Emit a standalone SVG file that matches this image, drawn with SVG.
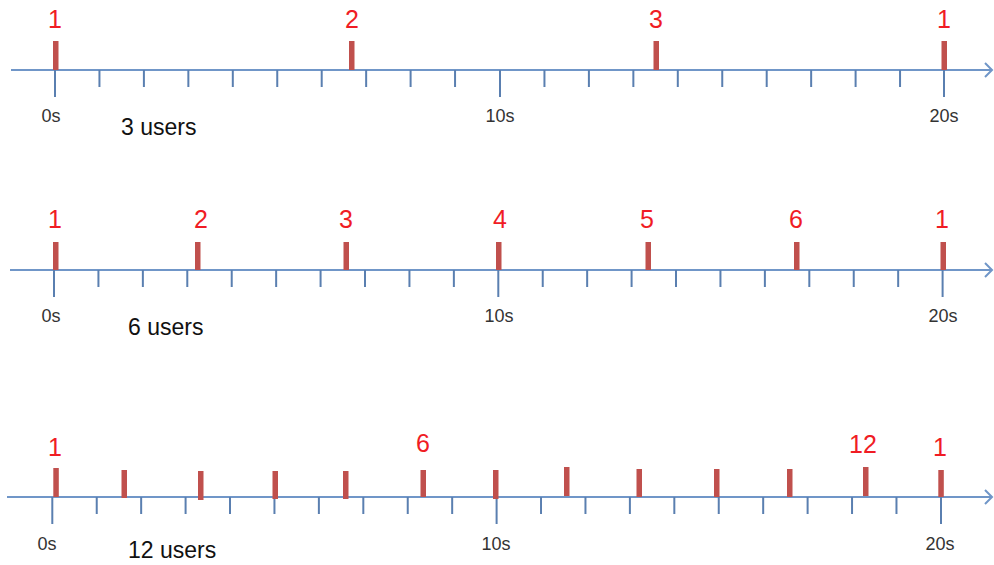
<svg xmlns="http://www.w3.org/2000/svg" width="994" height="565" viewBox="0 0 994 565">
<style>
.axis{stroke:#7096c8;stroke-width:2;fill:none}
.tick{stroke:#5a7fb0;stroke-width:2}
.bar{fill:#c0504d}
.num{font-family:"Liberation Sans",Arial,sans-serif;font-size:25px;fill:#f01c24;text-anchor:middle}
.sec{font-family:"Liberation Sans",Arial,sans-serif;font-size:18px;fill:#333;text-anchor:middle}
.usr{font-family:"Liberation Sans",Arial,sans-serif;font-size:23px;fill:#111}
</style>
<rect width="994" height="565" fill="#fff"/>
<defs>
<g id="minor"><line x1="0" y1="0" x2="0" y2="17" class="tick"/></g>
<g id="major"><line x1="0" y1="0" x2="0" y2="27" class="tick"/></g>
</defs>

<g id="connectors">
<line class="axis" x1="11" y1="70" x2="992" y2="70"/>
<polyline class="axis" points="985,63 992,70 985,77"/>
<line class="axis" x1="10" y1="270" x2="992" y2="270"/>
<polyline class="axis" points="985,263 992,270 985,277"/>
<line class="axis" x1="7" y1="497" x2="992" y2="497"/>
<polyline class="axis" points="985,490 992,497 985,504"/>
</g>

<g id="timeline1">
<use href="#major" x="55" y="70"/><use href="#major" x="500" y="70"/><use href="#major" x="944" y="70"/>
<use href="#minor" x="99.45" y="70"/><use href="#minor" x="143.9" y="70"/><use href="#minor" x="188.35" y="70"/><use href="#minor" x="232.8" y="70"/><use href="#minor" x="277.25" y="70"/><use href="#minor" x="321.7" y="70"/><use href="#minor" x="366.15" y="70"/><use href="#minor" x="410.6" y="70"/><use href="#minor" x="455.05" y="70"/>
<use href="#minor" x="544.45" y="70"/><use href="#minor" x="588.9" y="70"/><use href="#minor" x="633.35" y="70"/><use href="#minor" x="677.8" y="70"/><use href="#minor" x="722.25" y="70"/><use href="#minor" x="766.7" y="70"/><use href="#minor" x="811.15" y="70"/><use href="#minor" x="855.6" y="70"/><use href="#minor" x="900.05" y="70"/>
<rect class="bar" x="53" y="41" width="5.5" height="29"/>
<rect class="bar" x="349" y="41" width="5.5" height="29"/>
<rect class="bar" x="653.5" y="41" width="5.5" height="29"/>
<rect class="bar" x="941.5" y="41" width="5.5" height="29"/>
<text class="num" x="55" y="28">1</text>
<text class="num" x="352" y="28">2</text>
<text class="num" x="656" y="28">3</text>
<text class="num" x="944" y="28">1</text>
<text class="sec" x="51" y="122">0s</text>
<text class="sec" x="500" y="122">10s</text>
<text class="sec" x="944" y="122">20s</text>
<text class="usr" x="121" y="135">3 users</text>
</g>

<g id="timeline2">
<use href="#major" x="54" y="270"/><use href="#major" x="498.3" y="270"/><use href="#major" x="942.6" y="270"/>
<use href="#minor" x="98.43" y="270"/><use href="#minor" x="142.86" y="270"/><use href="#minor" x="187.29" y="270"/><use href="#minor" x="231.72" y="270"/><use href="#minor" x="276.15" y="270"/><use href="#minor" x="320.58" y="270"/><use href="#minor" x="365.01" y="270"/><use href="#minor" x="409.44" y="270"/><use href="#minor" x="453.87" y="270"/>
<use href="#minor" x="542.73" y="270"/><use href="#minor" x="587.16" y="270"/><use href="#minor" x="631.59" y="270"/><use href="#minor" x="676.02" y="270"/><use href="#minor" x="720.45" y="270"/><use href="#minor" x="764.88" y="270"/><use href="#minor" x="809.31" y="270"/><use href="#minor" x="853.74" y="270"/><use href="#minor" x="898.17" y="270"/>
<rect class="bar" x="53" y="242" width="5.5" height="28"/>
<rect class="bar" x="195" y="242" width="5.5" height="28"/>
<rect class="bar" x="343.5" y="242" width="5.5" height="28"/>
<rect class="bar" x="496" y="242" width="5.5" height="28"/>
<rect class="bar" x="645.5" y="242" width="5.5" height="28"/>
<rect class="bar" x="794" y="242" width="5.5" height="28"/>
<rect class="bar" x="940.5" y="242" width="5.5" height="28"/>
<text class="num" x="55" y="228">1</text>
<text class="num" x="201" y="228">2</text>
<text class="num" x="346" y="228">3</text>
<text class="num" x="500" y="228">4</text>
<text class="num" x="647" y="228">5</text>
<text class="num" x="796" y="228">6</text>
<text class="num" x="942" y="228">1</text>
<text class="sec" x="51" y="322">0s</text>
<text class="sec" x="499" y="322">10s</text>
<text class="sec" x="943" y="322">20s</text>
<text class="usr" x="128" y="335">6 users</text>
</g>

<g id="timeline3">
<use href="#major" x="52.3" y="497"/><use href="#major" x="496.6" y="497"/><use href="#major" x="941" y="497"/>
<use href="#minor" x="96.73" y="497"/><use href="#minor" x="141.16" y="497"/><use href="#minor" x="185.59" y="497"/><use href="#minor" x="230.02" y="497"/><use href="#minor" x="274.45" y="497"/><use href="#minor" x="318.88" y="497"/><use href="#minor" x="363.31" y="497"/><use href="#minor" x="407.74" y="497"/><use href="#minor" x="452.17" y="497"/>
<use href="#minor" x="541.03" y="497"/><use href="#minor" x="585.46" y="497"/><use href="#minor" x="629.89" y="497"/><use href="#minor" x="674.32" y="497"/><use href="#minor" x="718.75" y="497"/><use href="#minor" x="763.18" y="497"/><use href="#minor" x="807.61" y="497"/><use href="#minor" x="852.04" y="497"/><use href="#minor" x="896.47" y="497"/>
<rect class="bar" x="53.3" y="468" width="5.5" height="29"/>
<rect class="bar" x="121.5" y="470" width="5.5" height="28"/>
<rect class="bar" x="198" y="471" width="5.5" height="29"/>
<rect class="bar" x="272.5" y="471" width="5.5" height="28"/>
<rect class="bar" x="343" y="471" width="5.5" height="28"/>
<rect class="bar" x="420.5" y="470" width="5.5" height="27"/>
<rect class="bar" x="493" y="470" width="5.5" height="29"/>
<rect class="bar" x="564" y="467" width="5.5" height="29"/>
<rect class="bar" x="636.5" y="469" width="5.5" height="28"/>
<rect class="bar" x="714" y="469" width="5.5" height="28"/>
<rect class="bar" x="787" y="469" width="5.5" height="28"/>
<rect class="bar" x="863" y="467" width="5.5" height="29"/>
<rect class="bar" x="938.3" y="470" width="5.5" height="27"/>
<text class="num" x="55" y="456">1</text>
<text class="num" x="423" y="452">6</text>
<text class="num" x="863" y="453">12</text>
<text class="num" x="940" y="456">1</text>
<text class="sec" x="47" y="550">0s</text>
<text class="sec" x="496" y="550">10s</text>
<text class="sec" x="940" y="550">20s</text>
<text class="usr" x="128" y="558">12 users</text>
</g>
</svg>
